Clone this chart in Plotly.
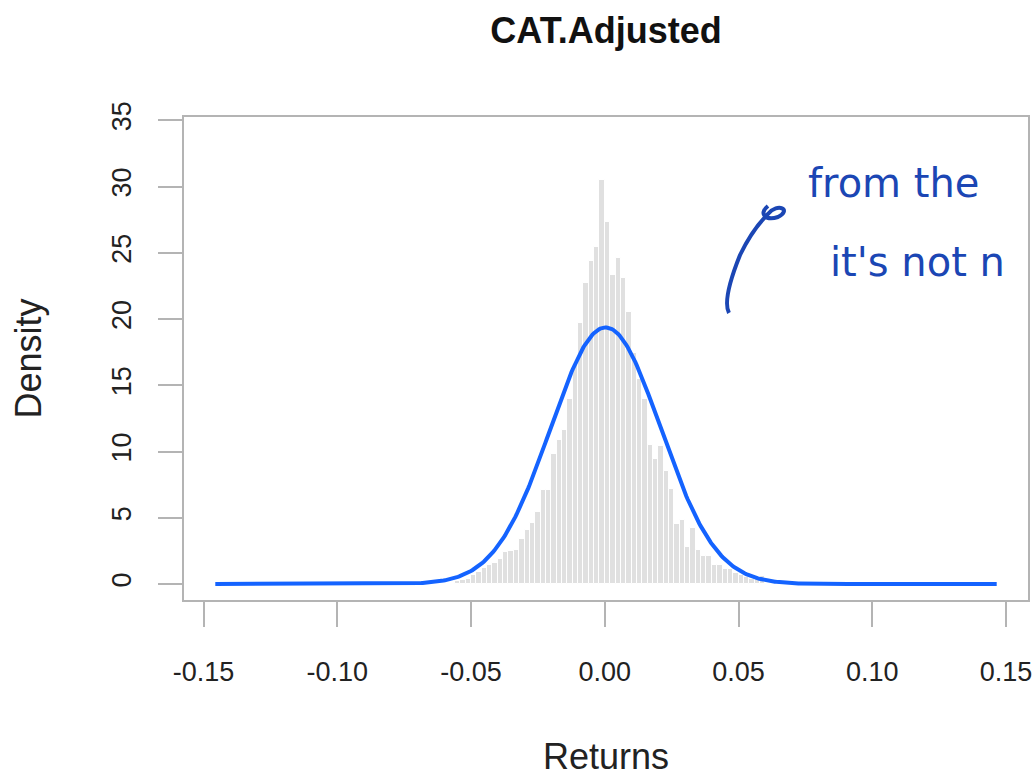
import numpy as np
import plotly.graph_objects as go

# ---------------- data ----------------
TITLE = "CAT.Adjusted"
X_LABEL = "Returns"
Y_LABEL = "Density"

# histogram bins (left edges, returns) and their densities
bin_left = [round(0.002 * k, 3) for k in range(-28, 30)]
bin_density = [
    0.2, 0.3, 0.4, 0.7, 0.9, 1.2, 1.4, 1.6, 1.9, 2.4,
    2.5, 2.6, 3.4, 4.1, 4.6, 5.4, 7.1, 7.1, 9.8, 10.9,
    11.6, 14.0, 16.5, 19.7, 22.7, 24.4, 25.4, 30.5, 27.3, 23.3,
    24.6, 23.1, 20.5, 17.4, 15.5, 14.0, 10.5, 9.4, 10.4, 8.5,
    7.2, 4.5, 4.8, 2.8, 4.2, 2.6, 2.1, 2.1, 1.4, 1.4,
    1.1, 1.1, 0.8, 0.7, 0.55, 0.4, 0.35, 0.6,
]
BIN_WIDTH = 0.002

# fitted normal curve parameters
NORMAL_MEAN = 0.0003
NORMAL_SD = 0.0206
RET_MIN = -0.1456
RET_MAX = 0.1465

x_ticks = [-0.15, -0.10, -0.05, 0.00, 0.05, 0.10, 0.15]
x_tick_text = ["-0.15", "-0.10", "-0.05", "0.00", "0.05", "0.10", "0.15"]
y_ticks = [0, 5, 10, 15, 20, 25, 30, 35]
y_tick_text = ["0", "5", "10", "15", "20", "25", "30", "35"]

NOTE_LINE1 = "from the"
NOTE_LINE2 = "it's not n"

# ---------------- figure ----------------
W, H = 1035, 777
ML, MR, MT, MB = 184, 7, 117, 177
PW, PH = W - ML - MR, H - MT - MB

bin_centers = [b + BIN_WIDTH / 2 for b in bin_left]

xs = np.linspace(RET_MIN, RET_MAX, 600)
ys = np.exp(-0.5 * ((xs - NORMAL_MEAN) / NORMAL_SD) ** 2) / (NORMAL_SD * np.sqrt(2 * np.pi))

fig = go.Figure()
fig.add_trace(go.Bar(
    x=bin_centers, y=bin_density, width=BIN_WIDTH,
    marker=dict(color="#e0e0e0", line=dict(color="white", width=1)),
    showlegend=False, hoverinfo="skip",
))
fig.add_trace(go.Scatter(
    x=xs, y=ys, mode="lines",
    line=dict(color="#1463ff", width=4),
    showlegend=False, hoverinfo="skip",
))

FONT = "Liberation Sans, Arial, Helvetica, sans-serif"
AXC = "#b4b4b4"

fig.update_layout(
    width=W, height=H,
    margin=dict(l=ML, r=MR, t=MT, b=MB, autoexpand=False),
    paper_bgcolor="white", plot_bgcolor="white",
    font=dict(family=FONT, color="#222222"),
    bargap=0,
    title=dict(text="<b>" + TITLE + "</b>", x=(ML + PW / 2) / W, xanchor="center",
               y=1 - 30 / H, yanchor="middle",
               font=dict(size=36, family=FONT, color="#111111")),
)

fig.update_xaxes(
    range=[-0.1573, 0.1582], tickvals=x_ticks, ticktext=x_tick_text,
    showgrid=False, zeroline=False,
    showline=True, linecolor=AXC, linewidth=2, mirror=True,
    ticks="outside", ticklen=25, tickwidth=2, tickcolor=AXC,
    tickfont=dict(size=27, family=FONT, color="#222222"),
    ticklabelstandoff=22,
    title=dict(text=X_LABEL, font=dict(size=36, family=FONT, color="#222222"), standoff=62),
)
fig.update_yaxes(
    range=[-1.21, 35.25], tickvals=y_ticks, ticktext=y_tick_text,
    showgrid=False, zeroline=False,
    showline=True, linecolor=AXC, linewidth=2, mirror=True,
    ticks="outside", ticklen=24, tickwidth=2, tickcolor=AXC,
    tickangle=-90,
    tickfont=dict(size=27, family=FONT, color="#222222"),
    ticklabelstandoff=16,
    title=dict(text=Y_LABEL, font=dict(size=36, family=FONT, color="#222222"), standoff=55),
)

# handwritten-style note (in paper coordinates)
def px(xp):
    return (xp - ML) / PW

def py(yp):
    return (H - MB - yp) / PH

NOTE_COLOR = "#1b46b4"
NOTE_FONT = "DejaVu Sans, sans-serif"
fig.add_annotation(text=NOTE_LINE1, xref="paper", yref="paper", x=px(806), y=py(208),
                   xanchor="left", yanchor="bottom", showarrow=False,
                   font=dict(size=40, family=NOTE_FONT, color=NOTE_COLOR))
fig.add_annotation(text=NOTE_LINE2, xref="paper", yref="paper", x=px(828), y=py(287),
                   xanchor="left", yanchor="bottom", showarrow=False,
                   font=dict(size=40, family=NOTE_FONT, color=NOTE_COLOR))

path = "M {:.4f},{:.4f} ".format(px(729), py(313))
path += "Q {:.4f},{:.4f} {:.4f},{:.4f} ".format(px(722), py(300), px(740), py(255))
path += "Q {:.4f},{:.4f} {:.4f},{:.4f} ".format(px(752), py(230), px(768), py(214))
path += "C {:.4f},{:.4f} {:.4f},{:.4f} {:.4f},{:.4f} ".format(px(778), py(202), px(792), py(210), px(778), py(217))
path += "C {:.4f},{:.4f} {:.4f},{:.4f} {:.4f},{:.4f}".format(px(766), py(221), px(758), py(214), px(768), py(206))
fig.add_shape(type="path", path=path, xref="paper", yref="paper",
              line=dict(color=NOTE_COLOR, width=4), fillcolor="rgba(0,0,0,0)")

fig.write_html("out.html")
